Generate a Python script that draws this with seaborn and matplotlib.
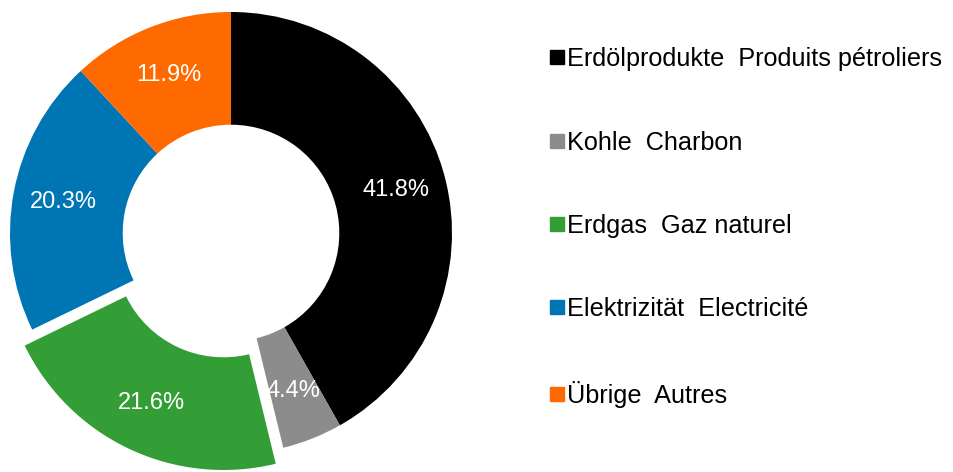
import seaborn as sns
import matplotlib
matplotlib.use("Agg")
import matplotlib.pyplot as plt
from matplotlib.lines import Line2D

sns.set_style("white")
plt.rcParams['font.family'] = ['Liberation Sans', 'DejaVu Sans']
plt.rcParams['text.color'] = 'black'

# energy mix shares (%)
labels = ["Erdölprodukte  Produits pétroliers", "Kohle  Charbon", "Erdgas  Gaz naturel",
          "Elektrizität  Electricité", "Übrige  Autres"]
shares = [41.8, 4.4, 21.6, 20.3, 11.9]
colors = ["#000000", "#8c8c8c", "#339e35", "#0075b4", "#ff6a00"]
explode = [0, 0, 0.08, 0, 0]

fig = plt.figure(figsize=(9.54, 4.72), dpi=100)
# axes box so the ring sits at the same spot as the reference
ax = fig.add_axes([10 / 954, 18 / 472, 442 / 954, 442 / 472])

wedges, texts, autotexts = ax.pie(
    shares, colors=colors, explode=explode, startangle=90, counterclock=False,
    autopct="%.1f%%", pctdistance=0.77,
    wedgeprops=dict(width=0.51, linewidth=0),
    textprops=dict(color="white", fontsize=17))
for w in wedges:
    w.set_clip_on(False)
for t in autotexts:
    t.set_clip_on(False)

ax.set_xlim(-1, 1)
ax.set_ylim(-1, 1)
ax.set_aspect("equal")
ax.axis("off")

handles = [Line2D([0], [0], marker="s", linestyle="", markersize=10,
                  markerfacecolor=c, markeredgecolor=c) for c in colors]
leg = fig.legend(handles, labels, loc="upper left", bbox_to_anchor=(539 / 954, 1 - 37 / 472),
                 frameon=False, fontsize=18.2, labelspacing=2.35, handlelength=0.6,
                 handletextpad=0.1, borderaxespad=0)
for t in leg.get_texts():
    t.set_color("black")

fig.savefig("out.png", dpi=100)
